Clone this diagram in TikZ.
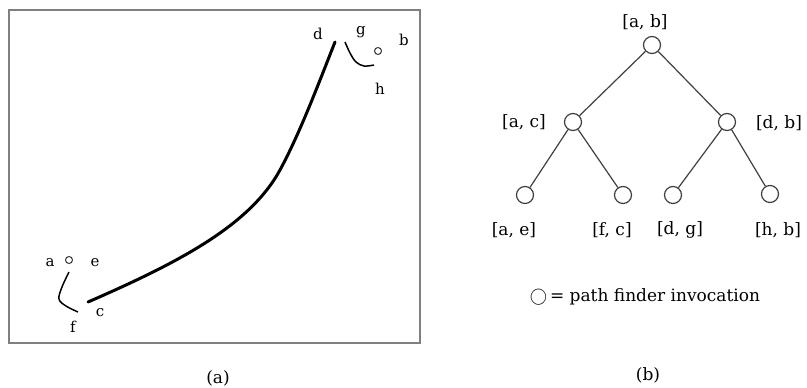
\documentclass[tikz,border=0pt]{standalone}
\usepackage{fontspec}
\setmainfont{DejaVu Serif}
\usetikzlibrary{positioning}
\begin{document}
\begin{tikzpicture}[x=1pt, y=-1pt,
    pf/.style={circle, draw=black!75, line width=1.2pt, minimum size=17pt, inner sep=0pt},
    pt/.style={circle, draw=black!80, line width=1pt, minimum size=7pt, inner sep=0pt},
    lab/.style={font=\fontsize{15}{17}\selectfont, inner sep=0pt},
    tlab/.style={font=\fontsize{17}{19}\selectfont, inner sep=0pt}]
    \useasboundingbox (0,0) rectangle (807,388);

    % (a) the frame
    \draw[black!50, line width=1.8pt] (9,10) rectangle (420,343);

    % the long path from c to d
    \draw[line width=3pt, line cap=round] (88,302) .. controls (180,262) and (250,225) .. (280,170)
        .. controls (300,133) and (318,85) .. (335,42);

    % lower end: a o e, arc to f, then c
    \node[pt] (ae) at (69,260) {};
    \node[lab] (la) at (50,263) {a};
    \node[lab] (le) at (95,263) {e};
    \draw[line width=1.5pt] plot[smooth, tension=0.6] coordinates
        {(69,272) (62,287) (59,299) (66,306) (78,312)};
    \node[lab] (lf) at (73,327) {f};
    \node[lab] (lc) at (100,313) {c};

    % upper end: d, arc g to h, o b
    \node[pt] (hb) at (378,51) {};
    \node[lab] (ld) at (318,34) {d};
    \node[lab] (lg) at (361,32) {g};
    \node[lab] (lb) at (404,40) {b};
    \node[lab] (lh) at (380,89) {h};
    \draw[line width=1.5pt] plot[smooth, tension=0.6] coordinates
        {(345,42) (350,53) (356,62) (364,66) (374,65)};

    \node[tlab] (capa) at (218,378) {(a)};

    % (b) the tree of path finder invocations
    \node[pf] (ab) at (652,45) {};
    \node[pf] (ac) at (573,122) {};
    \node[pf] (db) at (727,122) {};
    \node[pf] (aeb) at (525,195) {};
    \node[pf] (fc) at (623,195) {};
    \node[pf] (dg) at (673,195) {};
    \node[pf] (hbb) at (770,194) {};

    \foreach \p/\c in {ab/ac, ab/db, ac/aeb, ac/fc, db/dg, db/hbb}
        \draw[black!75, line width=1.2pt] (\p) -- (\c);

    \node[tlab] at (645,22) {[a, b]};
    \node[tlab] at (524,122) {[a, c]};
    \node[tlab] at (779,123) {[d, b]};
    \node[tlab] at (514,230) {[a, e]};
    \node[tlab] at (612,230) {[f, c]};
    \node[tlab] at (680,230) {[d, g]};
    \node[tlab] at (778,230) {[h, b]};

    % legend
    \node[tlab] (legend) at (645,297) {$\bigcirc$\,= path finder invocation};

    \node[tlab] (capb) at (648,375) {(b)};
\end{tikzpicture}
\end{document}
